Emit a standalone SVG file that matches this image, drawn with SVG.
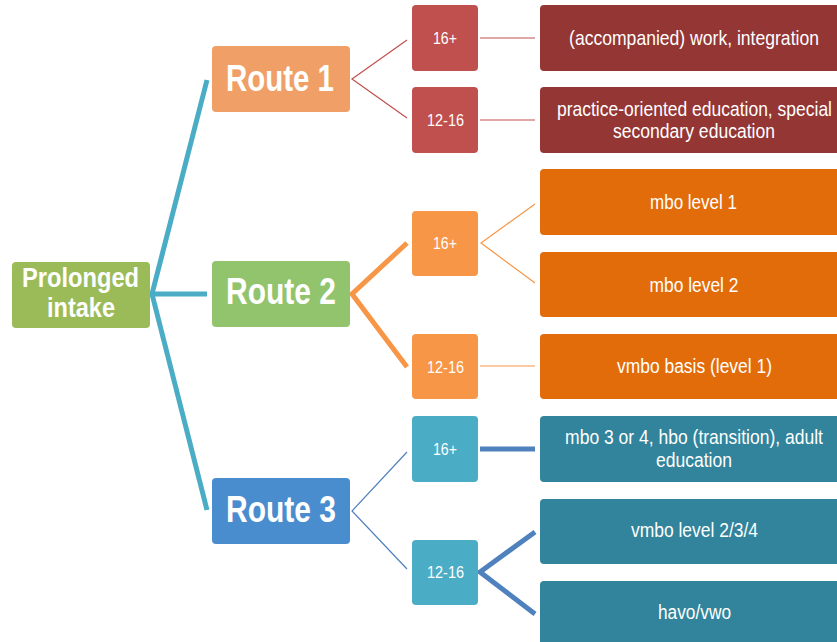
<svg xmlns="http://www.w3.org/2000/svg" width="837" height="642" viewBox="0 0 837 642">
<style>
text{font-family:"Liberation Sans Narrow","Liberation Sans",Arial,sans-serif;fill:#fff;text-anchor:middle}
.big{font-size:36px;font-weight:bold}
.root{font-size:27px;font-weight:bold}
.sm{font-size:17px}
.lf{font-size:20px}
.c{fill:none;stroke-linecap:butt;stroke-linejoin:miter}
.thin{stroke-width:1.2}
.thick{stroke-width:5}
.red{fill:#943634}
.org{fill:#E36C0A}
.teal{fill:#31849B}
</style>
<rect width="837" height="642" fill="#fff"/>
<g id="connectors" class="c">
<polyline points="207,80 152,294 207,294" stroke="#4BACC6" class="thick" fill="none"/>
<polyline points="152,294 207,510" stroke="#4BACC6" class="thick" fill="none"/>
<polyline points="407,40 352,79 407,118" stroke="#C0504D" class="thin" fill="none"/>
<line x1="480" y1="38" x2="535" y2="38" stroke="#C0504D" class="thin"/>
<line x1="480" y1="120" x2="535" y2="120" stroke="#C0504D" class="thin"/>
<polyline points="407,243 352,294 407,367" stroke="#F79646" class="thick" fill="none"/>
<polyline points="535,204 481,243 535,283" stroke="#F79646" class="thin" fill="none"/>
<line x1="480" y1="366" x2="535" y2="366" stroke="#F79646" class="thin"/>
<polyline points="407,452 352,511 407,569" stroke="#4F81BD" class="thin" fill="none"/>
<line x1="480" y1="449" x2="535" y2="449" stroke="#4F81BD" class="thick"/>
<polyline points="535,532 480,572 535,614" stroke="#4F81BD" class="thick" fill="none"/>
</g>
<g id="root">
<rect x="12" y="262" width="138" height="66" rx="4" fill="#9BBB59"/>
<text class="root" x="80.5" y="287" textLength="117" lengthAdjust="spacingAndGlyphs">Prolonged</text>
<text class="root" x="81" y="317" textLength="68" lengthAdjust="spacingAndGlyphs">intake</text>
</g>
<g id="route1">
<rect x="212" y="46" width="138" height="66" rx="4" fill="#F0A066"/>
<text class="big" x="280" y="91" textLength="108" lengthAdjust="spacingAndGlyphs">Route 1</text>
</g>
<g id="route2">
<rect x="212" y="261" width="138" height="66" rx="4" fill="#92C46E"/>
<text class="big" x="281" y="304" textLength="110" lengthAdjust="spacingAndGlyphs">Route 2</text>
</g>
<g id="route3">
<rect x="212" y="478" width="138" height="66" rx="4" fill="#4A8DCF"/>
<text class="big" x="281" y="522" textLength="110" lengthAdjust="spacingAndGlyphs">Route 3</text>
</g>
<g id="r1-16">
<rect x="412" y="5" width="66" height="66" rx="4" fill="#C0504D"/>
<text class="sm" x="445" y="44" textLength="24" lengthAdjust="spacingAndGlyphs">16+</text>
</g>
<g id="r1-12">
<rect x="412" y="87" width="66" height="66" rx="4" fill="#C0504D"/>
<text class="sm" x="445.5" y="126" textLength="37" lengthAdjust="spacingAndGlyphs">12-16</text>
</g>
<g id="r2-16">
<rect x="412" y="211" width="66" height="65" rx="4" fill="#F79646"/>
<text class="sm" x="445" y="249" textLength="24" lengthAdjust="spacingAndGlyphs">16+</text>
</g>
<g id="r2-12">
<rect x="412" y="334" width="66" height="65" rx="4" fill="#F79646"/>
<text class="sm" x="445.5" y="373" textLength="37" lengthAdjust="spacingAndGlyphs">12-16</text>
</g>
<g id="r3-16">
<rect x="412" y="416" width="66" height="66" rx="4" fill="#4BACC6"/>
<text class="sm" x="445" y="455" textLength="24" lengthAdjust="spacingAndGlyphs">16+</text>
</g>
<g id="r3-12">
<rect x="412" y="540" width="66" height="65" rx="4" fill="#4BACC6"/>
<text class="sm" x="445.5" y="578" textLength="37" lengthAdjust="spacingAndGlyphs">12-16</text>
</g>
<g id="leaf-work">
<path class="red" d="M540,9a4,4 0 0 1 4,-4H837V71H544a4,4 0 0 1 -4,-4Z"/>
<text class="lf" transform="translate(694 45) scale(0.88 1)" x="0" y="0" textLength="284" lengthAdjust="spacingAndGlyphs">(accompanied) work, integration</text>
</g>
<g id="leaf-practice">
<path class="red" d="M540,91a4,4 0 0 1 4,-4H837V153H544a4,4 0 0 1 -4,-4Z"/>
<text class="lf" transform="translate(694.5 116) scale(0.88 1)" x="0" y="0" textLength="312.5" lengthAdjust="spacingAndGlyphs">practice-oriented education, special</text>
<text class="lf" x="694" y="138" textLength="162" lengthAdjust="spacingAndGlyphs">secondary education</text>
</g>
<g id="leaf-mbo1">
<path class="org" d="M540,173a4,4 0 0 1 4,-4H837V235H544a4,4 0 0 1 -4,-4Z"/>
<text class="lf" x="693.5" y="209" textLength="87" lengthAdjust="spacingAndGlyphs">mbo level 1</text>
</g>
<g id="leaf-mbo2">
<path class="org" d="M540,256a4,4 0 0 1 4,-4H837V317H544a4,4 0 0 1 -4,-4Z"/>
<text class="lf" x="694" y="292" textLength="89" lengthAdjust="spacingAndGlyphs">mbo level 2</text>
</g>
<g id="leaf-vmbo1">
<path class="org" d="M540,338a4,4 0 0 1 4,-4H837V399H544a4,4 0 0 1 -4,-4Z"/>
<text class="lf" x="694.5" y="373" textLength="155" lengthAdjust="spacingAndGlyphs">vmbo basis (level 1)</text>
</g>
<g id="leaf-mbo34">
<path class="teal" d="M540,420a4,4 0 0 1 4,-4H837V482H544a4,4 0 0 1 -4,-4Z"/>
<text class="lf" transform="translate(694 444) scale(0.88 1)" x="0" y="0" textLength="293" lengthAdjust="spacingAndGlyphs">mbo 3 or 4, hbo (transition), adult</text>
<text class="lf" x="694" y="467" textLength="76" lengthAdjust="spacingAndGlyphs">education</text>
</g>
<g id="leaf-vmbo234">
<path class="teal" d="M540,503a4,4 0 0 1 4,-4H837V564H544a4,4 0 0 1 -4,-4Z"/>
<text class="lf" x="694.5" y="537" textLength="127" lengthAdjust="spacingAndGlyphs">vmbo level 2/3/4</text>
</g>
<g id="leaf-havo">
<path class="teal" d="M540,585a4,4 0 0 1 4,-4H837V642H540Z"/>
<text class="lf" x="694.5" y="619" textLength="73" lengthAdjust="spacingAndGlyphs">havo/vwo</text>
</g>
</svg>
